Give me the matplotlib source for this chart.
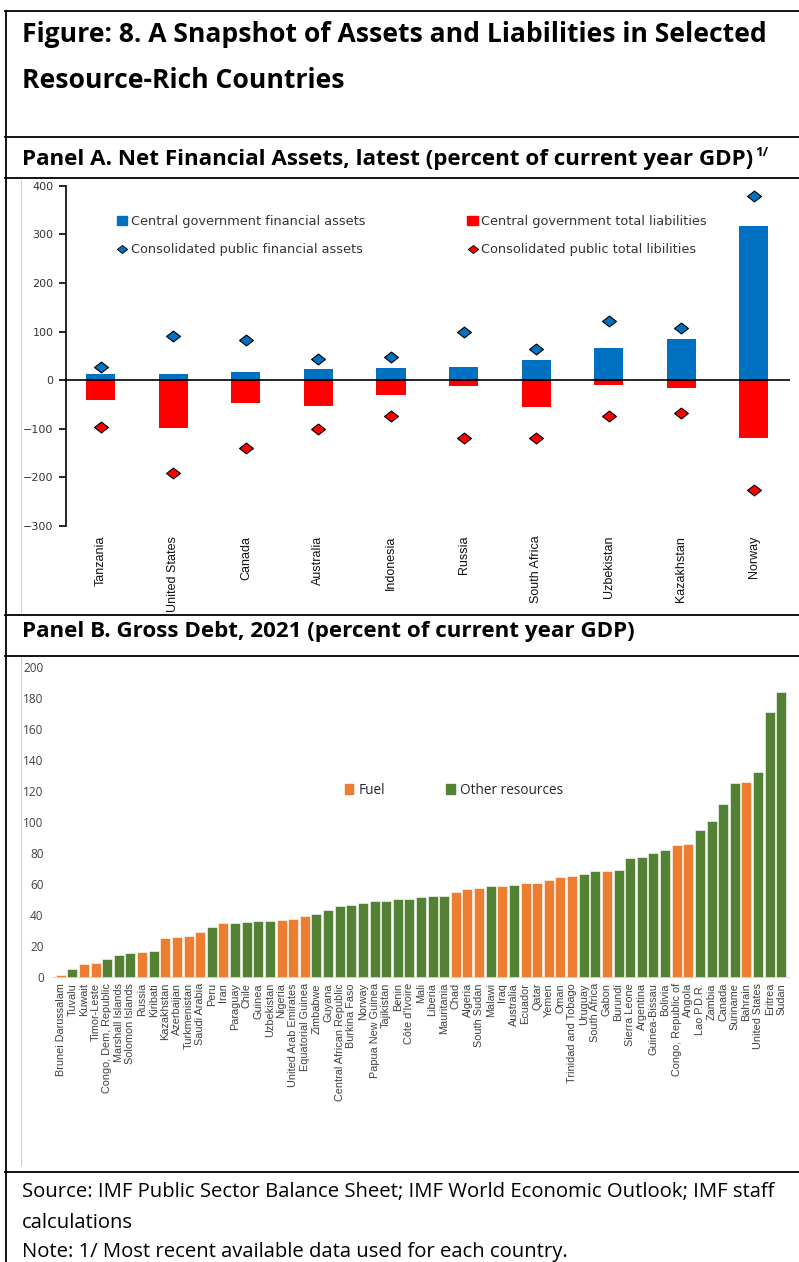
import matplotlib
matplotlib.use("Agg")
import numpy as np
import matplotlib.pyplot as plt
import matplotlib.transforms as mtransforms
from matplotlib.lines import Line2D
from matplotlib.patches import Patch
from matplotlib.path import Path

# ---------------- data ----------------
countries_a = ["Tanzania", "United States", "Canada", "Australia", "Indonesia",
               "Russia", "South Africa", "Uzbekistan", "Kazakhstan", "Norway"]
cg_assets = [13, 13, 17, 22, 25, 28, 41, 67, 84, 317]
cg_liab = [-40, -99, -48, -53, -31, -12, -55, -9, -17, -118]
cons_assets = [27, 91, 82, 44, 48, 100, 64, 121, 108, 378]
cons_liab = [-97, -192, -140, -101, -73, -118, -118, -73, -67, -225]

countries_b = ["Brunei Darussalam", "Tuvalu", "Kuwait", "Timor-Leste", "Congo, Dem, Republic",
               "Marshall Islands", "Solomon Islands", "Russia", "Kiribati", "Kazakhstan",
               "Azerbaijan", "Turkmenistan", "Saudi Arabia", "Peru", "Iran", "Paraguay",
               "Chile", "Guinea", "Uzbekistan", "Nigeria", "United Arab Emirates",
               "Equatorial Guinea", "Zimbabwe", "Guyana", "Central African Republic",
               "Burkina Faso", "Norway", "Papua New Guinea", "Tajikistan", "Benin",
               "Côte d'Ivoire", "Mali", "Liberia", "Mauritania", "Chad", "Algeria",
               "South Sudan", "Malawi", "Iraq", "Australia", "Ecuador", "Qatar", "Yemen",
               "Oman", "Trinidad and Tobago", "Uruguay", "South Africa", "Gabon", "Burundi",
               "Sierra Leone", "Argentina", "Guinea-Bissau", "Bolivia", "Congo, Republic of",
               "Angola", "Lao P.D.R.", "Zambia", "Canada", "Suriname", "Bahrain",
               "United States", "Eritrea", "Sudan"]
gross_debt = [1.6, 5.5, 8.7, 9.2, 11.9, 14.3, 16.0, 16.5, 17.1, 25.3,
              25.9, 26.6, 29.2, 32.8, 35.2, 35.2, 35.6, 36.3, 36.3, 36.9,
              37.9, 39.7, 41.0, 43.4, 46.1, 46.8, 47.9, 49.2, 49.2, 50.4,
              50.8, 51.9, 52.6, 52.6, 55.0, 57.1, 57.7, 59.0, 59.0, 59.5,
              60.8, 60.8, 62.9, 64.8, 65.3, 66.6, 68.7, 68.7, 69.4, 76.9,
              77.9, 80.3, 82.1, 85.5, 86.1, 94.9, 100.5, 111.7, 125.0, 125.9,
              132.6, 171.1, 184.2]
resource_type = ["F", "O", "F", "F", "O", "O", "O", "F", "O", "F",
                 "F", "F", "F", "O", "F", "O", "O", "O", "O", "F",
                 "F", "F", "O", "O", "O", "O", "O", "O", "O", "O",
                 "O", "O", "O", "O", "F", "F", "F", "O", "F", "O",
                 "F", "F", "F", "F", "F", "O", "O", "F", "O", "O",
                 "O", "O", "O", "F", "F", "O", "O", "O", "O", "F",
                 "O", "O", "O"]
yticks_a = [-300, -200, -100, 0, 100, 200, 300, 400]
yticks_b = list(range(0, 201, 20))

# ---------------- styling ----------------
BLUE = "#0070C0"
RED = "#FF0000"
ORANGE = "#ED7D31"
GREEN = "#548235"
W, H = 799, 1262

fig = plt.figure(figsize=(W / 100, H / 100), dpi=100)
px = mtransforms.Affine2D().scale(1 / W, -1 / H).translate(0, 1) + fig.transFigure


def ax_px(l, t, r, b):
    return fig.add_axes([l / W, 1 - b / H, (r - l) / W, (b - t) / H])


def hline(y, x0=5, x1=799, lw=1.3, color="black"):
    fig.add_artist(Line2D([x0, x1], [y, y], transform=px, color=color, lw=lw))


def vline(x, y0, y1, lw=1.3, color="black"):
    fig.add_artist(Line2D([x, x], [y0, y1], transform=px, color=color, lw=lw))


renderer = fig.canvas.get_renderer()


def fit_text(s, x, y, width, weight="normal", family="Open Sans", size0=20, color="black"):
    t = fig.text(x, y, s, transform=px, ha="left", va="baseline", fontsize=size0,
                 fontweight=weight, family=family, color=color)
    w = t.get_window_extent(renderer).width
    t.set_fontsize(size0 * width / w)
    return t


# frame lines
hline(11)
vline(6, 11, 1262)
for yy in (137, 178, 615, 656, 1172):
    hline(yy)
vline(20.5, 180, 612, lw=0.8, color="#cfcfcf")
vline(20.5, 658, 1165, lw=0.8, color="#cfcfcf")

# titles
t1 = fit_text("Figure: 8. A Snapshot of Assets and Liabilities in Selected", 22, 42, 743, weight="bold")
fig.text(22, 88, "Resource-Rich Countries", transform=px, ha="left", va="baseline",
         fontsize=t1.get_fontsize(), fontweight="bold", family="Open Sans")
ta = fit_text("Panel A. Net Financial Assets, latest (percent of current year GDP)", 22, 165, 731,
              weight="bold")
ext = ta.get_window_extent(renderer)
sup = fig.text(ext.x1 + 2, ext.y1 - ta.get_fontsize() * 0.6, "1/", transform=None, ha="left",
               va="bottom", fontsize=ta.get_fontsize() * 0.6, fontweight="bold", family="Open Sans")
fig.text(22, 636.7, "Panel B. Gross Debt, 2021 (percent of current year GDP)", transform=px,
         ha="left", va="baseline", fontsize=ta.get_fontsize(), fontweight="bold", family="Open Sans")
ts = fit_text("Source: IMF Public Sector Balance Sheet; IMF World Economic Outlook; IMF staff",
              22, 1196.7, 753)
for yy, s in ((1228, "calculations"), (1257, "Note: 1/ Most recent available data used for each country.")):
    fig.text(22, yy, s, transform=px, ha="left", va="baseline", fontsize=ts.get_fontsize(),
             family="Open Sans")

# ---------------- Panel A ----------------
axA = ax_px(66, 185.7, 790, 526)
xa = np.arange(len(countries_a))
axA.bar(xa, cg_assets, width=0.4, color=BLUE, zorder=2)
axA.bar(xa, cg_liab, width=0.4, color=RED, zorder=2)
diamond = Path([(-1, 0), (0, 0.78), (1, 0), (0, -0.78), (-1, 0)],
               [Path.MOVETO, Path.LINETO, Path.LINETO, Path.LINETO, Path.CLOSEPOLY])
axA.plot(xa, cons_assets, ls="none", marker=diamond, ms=10, mfc=BLUE, mec="black", mew=0.8, zorder=3)
axA.plot(xa, cons_liab, ls="none", marker=diamond, ms=10, mfc=RED, mec="black", mew=0.8, zorder=3)
axA.axhline(0, color="black", lw=1.2, zorder=4)
axA.set_xlim(-0.48, 9.5)
axA.set_ylim(-300, 400)
axA.set_yticks(yticks_a)
axA.set_xticks(xa)
axA.set_xticklabels(countries_a, rotation=90, family="Liberation Sans",
                    fontsize=9, color="#111111")
for s in ("top", "right", "bottom"):
    axA.spines[s].set_visible(False)
axA.spines["left"].set_linewidth(1.2)
axA.tick_params(axis="y", direction="out", length=5, width=1.2, labelsize=8,
                labelcolor="#333333", pad=4)
axA.tick_params(axis="x", length=0, pad=7)
for lab in axA.get_yticklabels():
    lab.set_family("DejaVu Sans")

hA = [Patch(color=BLUE),
      Line2D([], [], ls="none", marker=diamond, ms=7.5, mfc=BLUE, mec="black", mew=0.6),
      Patch(color=RED),
      Line2D([], [], ls="none", marker=diamond, ms=7.5, mfc=RED, mec="black", mew=0.6)]
lA = ["Central government financial assets", "Consolidated public financial assets",
      "Central government total liabilities", "Consolidated public total libilities"]
axA.legend(hA, lA, ncol=2, loc="upper left", bbox_to_anchor=(117, 215), bbox_transform=px,
           frameon=False, borderpad=0, borderaxespad=0, handlelength=0.78, handleheight=0.62,
           handletextpad=0.3, columnspacing=7.9, labelspacing=1.2,
           prop={"family": "DejaVu Sans", "size": 9.3}, labelcolor="#333333")

# ---------------- Panel B ----------------
axB = ax_px(52, 667, 790, 977.5)
xb = np.arange(len(countries_b))
colors_b = [ORANGE if t == "F" else GREEN for t in resource_type]
axB.bar(xb, gross_debt, width=0.86, color=colors_b, edgecolor="white", linewidth=0.4, zorder=2)
axB.axhline(0, color="#d9d9d9", lw=2, zorder=3)
axB.set_xlim(-0.75, 62.75)
axB.set_ylim(0, 200)
axB.set_yticks(yticks_b)
axB.set_xticks(xb)
axB.set_xticklabels(countries_b, rotation=90, family="Liberation Sans", fontsize=7.8,
                    color="#404040")
for s in ("top", "right", "bottom", "left"):
    axB.spines[s].set_visible(False)
axB.tick_params(axis="y", length=0, labelsize=8.5, labelcolor="#404040", pad=6)
axB.tick_params(axis="x", length=0, pad=4)
for lab in axB.get_yticklabels():
    lab.set_family("Open Sans")

hB = [Patch(color=ORANGE), Patch(color=GREEN)]
axB.legend(hB, ["Fuel", "Other resources"], ncol=2, loc="upper left", bbox_to_anchor=(345, 783),
           bbox_transform=px, frameon=False, borderpad=0, borderaxespad=0, handlelength=0.6,
           handleheight=0.75, handletextpad=0.4, columnspacing=4.5,
           prop={"family": "Open Sans", "size": 9.8}, labelcolor="#262626")

fig.savefig("out.png", dpi=100)
